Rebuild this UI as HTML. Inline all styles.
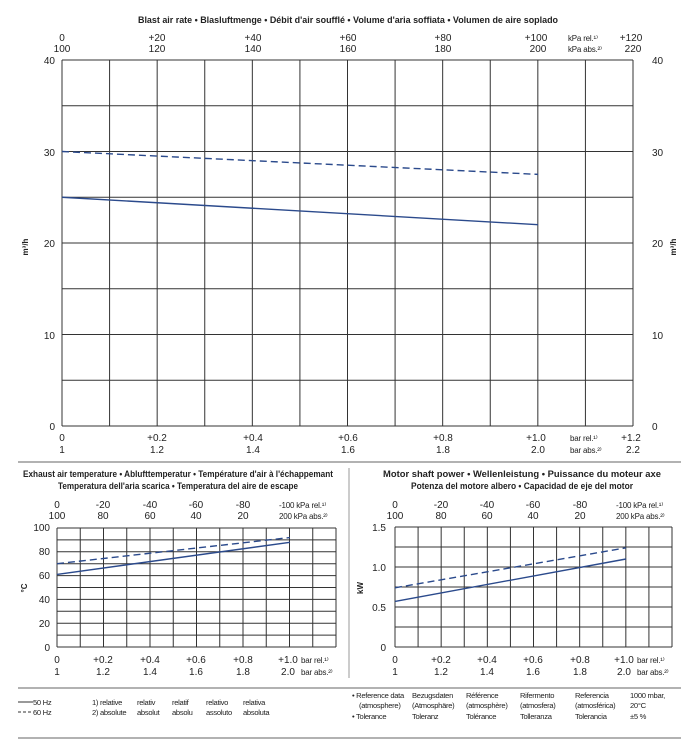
<!DOCTYPE html>
<html><head><meta charset="utf-8"><style>
html,body{margin:0;padding:0;background:#fff;}
svg{display:block;font-family:"Liberation Sans",sans-serif;}
text{font-size:10px;fill:#222;}
.b{font-weight:bold;font-size:9.5px;}
.s{font-size:8px;letter-spacing:-0.2px;}
.lg text{font-size:7.6px;letter-spacing:-0.3px;}
</style></head><body>
<svg id="s" width="700" height="743" viewBox="0 0 700 743">
<g id="grid" stroke="#333" stroke-width="1" fill="none"></g>
<text class="b" x="348" y="23" text-anchor="middle" textLength="420" lengthAdjust="spacingAndGlyphs">Blast air rate  •  Blasluftmenge  •  Débit d'air soufflé  •  Volume d'aria soffiata  •  Volumen de aire soplado</text>
<g text-anchor="middle">
<text x="62" y="41">0</text><text x="62" y="52">100</text>
<text x="157" y="41">+20</text><text x="157" y="52">120</text>
<text x="253" y="41">+40</text><text x="253" y="52">140</text>
<text x="348" y="41">+60</text><text x="348" y="52">160</text>
<text x="443" y="41">+80</text><text x="443" y="52">180</text>
<text x="536" y="41">+100</text><text x="538" y="52">200</text>
<text x="631" y="41">+120</text><text x="633" y="52">220</text>
<text x="62" y="441">0</text><text x="62" y="453">1</text>
<text x="157" y="441">+0.2</text><text x="157" y="453">1.2</text>
<text x="253" y="441">+0.4</text><text x="253" y="453">1.4</text>
<text x="348" y="441">+0.6</text><text x="348" y="453">1.6</text>
<text x="443" y="441">+0.8</text><text x="443" y="453">1.8</text>
<text x="536" y="441">+1.0</text><text x="538" y="453">2.0</text>
<text x="631" y="441">+1.2</text><text x="633" y="453">2.2</text>
</g>
<text class="s" x="568" y="41">kPa rel.¹⁾</text><text class="s" x="568" y="52">kPa abs.²⁾</text>
<text class="s" x="570" y="441">bar rel.¹⁾</text><text class="s" x="570" y="453">bar abs.²⁾</text>
<g text-anchor="end">
<text x="55" y="64">40</text><text x="55" y="156">30</text><text x="55" y="247">20</text><text x="55" y="339">10</text><text x="55" y="430">0</text>
</g>
<g>
<text x="652" y="64">40</text><text x="652" y="156">30</text><text x="652" y="247">20</text><text x="652" y="339">10</text><text x="652" y="430">0</text>
</g>
<text class="b" x="0" y="0" transform="translate(28,247) rotate(-90)" text-anchor="middle" style="font-size:8px">m³/h</text>
<text class="b" x="0" y="0" transform="translate(676,247) rotate(-90)" text-anchor="middle" style="font-size:8px">m³/h</text>

<line x1="18" y1="462" x2="681" y2="462" stroke="#999" stroke-width="1.5"/>
<line x1="349" y1="468" x2="349" y2="678" stroke="#999" stroke-width="1"/>

<text class="b" x="178" y="477" text-anchor="middle" textLength="310" lengthAdjust="spacingAndGlyphs">Exhaust air temperature  •  Ablufttemperatur  •  Température d'air à l'échappemant</text>
<text class="b" x="178" y="489" text-anchor="middle" textLength="240" lengthAdjust="spacingAndGlyphs">Temperatura dell'aria scarica  •  Temperatura del aire de escape</text>
<g text-anchor="middle">
<text x="57" y="508">0</text><text x="57" y="519">100</text>
<text x="103" y="508">-20</text><text x="103" y="519">80</text>
<text x="150" y="508">-40</text><text x="150" y="519">60</text>
<text x="196" y="508">-60</text><text x="196" y="519">40</text>
<text x="243" y="508">-80</text><text x="243" y="519">20</text>
<text x="57" y="663">0</text><text x="57" y="675">1</text>
<text x="103" y="663">+0.2</text><text x="103" y="675">1.2</text>
<text x="150" y="663">+0.4</text><text x="150" y="675">1.4</text>
<text x="196" y="663">+0.6</text><text x="196" y="675">1.6</text>
<text x="243" y="663">+0.8</text><text x="243" y="675">1.8</text>
<text x="288" y="663">+1.0</text><text x="288" y="675">2.0</text>
</g>
<text class="s" x="279" y="508">-100 kPa rel.¹⁾</text><text class="s" x="279" y="519">200 kPa abs.²⁾</text>
<text class="s" x="301" y="663">bar rel.¹⁾</text><text class="s" x="301" y="675">bar abs.²⁾</text>
<g text-anchor="end">
<text x="50" y="531">100</text><text x="50" y="555">80</text><text x="50" y="579">60</text><text x="50" y="603">40</text><text x="50" y="627">20</text><text x="50" y="651">0</text>
</g>
<text class="b" transform="translate(27,588) rotate(-90)" text-anchor="middle" style="font-size:8px">°C</text>

<text class="b" x="522" y="477" text-anchor="middle" textLength="278" lengthAdjust="spacingAndGlyphs">Motor shaft power  •  Wellenleistung  •  Puissance du moteur axe</text>
<text class="b" x="522" y="489" text-anchor="middle" textLength="222" lengthAdjust="spacingAndGlyphs">Potenza del motore albero  •  Capacidad de eje del motor</text>
<g text-anchor="middle">
<text x="395" y="508">0</text><text x="395" y="519">100</text>
<text x="441" y="508">-20</text><text x="441" y="519">80</text>
<text x="487" y="508">-40</text><text x="487" y="519">60</text>
<text x="533" y="508">-60</text><text x="533" y="519">40</text>
<text x="580" y="508">-80</text><text x="580" y="519">20</text>
<text x="395" y="663">0</text><text x="395" y="675">1</text>
<text x="441" y="663">+0.2</text><text x="441" y="675">1.2</text>
<text x="487" y="663">+0.4</text><text x="487" y="675">1.4</text>
<text x="533" y="663">+0.6</text><text x="533" y="675">1.6</text>
<text x="580" y="663">+0.8</text><text x="580" y="675">1.8</text>
<text x="624" y="663">+1.0</text><text x="624" y="675">2.0</text>
</g>
<text class="s" x="616" y="508">-100 kPa rel.¹⁾</text><text class="s" x="616" y="519">200 kPa abs.²⁾</text>
<text class="s" x="637" y="663">bar rel.¹⁾</text><text class="s" x="637" y="675">bar abs.²⁾</text>
<g text-anchor="end">
<text x="386" y="531">1.5</text><text x="386" y="571">1.0</text><text x="386" y="611">0.5</text><text x="386" y="651">0</text>
</g>
<text class="b" transform="translate(363,588) rotate(-90)" text-anchor="middle" style="font-size:8px">kW</text>

<line x1="18" y1="688" x2="681" y2="688" stroke="#999" stroke-width="1.5"/>
<line x1="18" y1="738" x2="681" y2="738" stroke="#999" stroke-width="1.5"/>
<line x1="18" y1="702" x2="33" y2="702" stroke="#333"/>
<line x1="18" y1="712" x2="33" y2="712" stroke="#333" stroke-dasharray="3,2"/>
<g class="lg">
<text x="33" y="705">50 Hz</text><text x="33" y="715">60 Hz</text>
<text x="92" y="705">1)  relative</text><text x="92" y="715">2)  absolute</text>
<text x="137" y="705">relativ</text><text x="137" y="715">absolut</text>
<text x="172" y="705">relatif</text><text x="172" y="715">absolu</text>
<text x="206" y="705">relativo</text><text x="206" y="715">assoluto</text>
<text x="243" y="705">relativa</text><text x="243" y="715">absoluta</text>
<text x="352" y="698">•  Reference data</text><text x="359" y="708">(atmosphere)</text><text x="352" y="719">•  Tolerance</text>
<text x="412" y="698">Bezugsdaten</text><text x="412" y="708">(Atmosphäre)</text><text x="412" y="719">Toleranz</text>
<text x="466" y="698">Référence</text><text x="466" y="708">(atmosphère)</text><text x="466" y="719">Tolérance</text>
<text x="520" y="698">Rifermento</text><text x="520" y="708">(atmosfera)</text><text x="520" y="719">Tolleranza</text>
<text x="575" y="698">Referencia</text><text x="575" y="708">(atmosférica)</text><text x="575" y="719">Tolerancia</text>
<text x="630" y="698">1000 mbar,</text><text x="630" y="708">20°C</text><text x="630" y="719">±5 %</text>
</g>
<g id="series" fill="none" stroke="#2b4a8c" stroke-width="1.4"></g>
</svg>
<script>
var g=document.getElementById('grid'),sr=document.getElementById('series'),NS="http://www.w3.org/2000/svg";
function L(p,x1,y1,x2,y2,d){var l=document.createElementNS(NS,'line');l.setAttribute('x1',x1);l.setAttribute('y1',y1);l.setAttribute('x2',x2);l.setAttribute('y2',y2);if(d)l.setAttribute('stroke-dasharray',d);p.appendChild(l);}
function grid(x0,x1,y0,y1,nc,nr){for(var i=0;i<=nc;i++){var x=x0+(x1-x0)*i/nc;L(g,x,y0,x,y1);}for(var j=0;j<=nr;j++){var y=y0+(y1-y0)*j/nr;L(g,x0,y,x1,y);}}
grid(62,633,60,426,12,8);
grid(57,336,528,647,12,10);
grid(395,672,527,647,12,6);
function Y(v,vmax,y0,y1){return y1-(y1-y0)*v/vmax;}
L(sr,62,Y(25,40,60,426),538,Y(22,40,60,426));
L(sr,62,Y(30,40,60,426),538,Y(27.5,40,60,426),'7,4');
L(sr,57,Y(61,100,528,647),290,Y(88,100,528,647));
L(sr,57,Y(70,100,528,647),290,Y(92,100,528,647),'7,4');
L(sr,395,Y(0.57,1.5,527,647),626,Y(1.1,1.5,527,647));
L(sr,395,Y(0.74,1.5,527,647),626,Y(1.24,1.5,527,647),'7,4');
</script>
</body></html>
